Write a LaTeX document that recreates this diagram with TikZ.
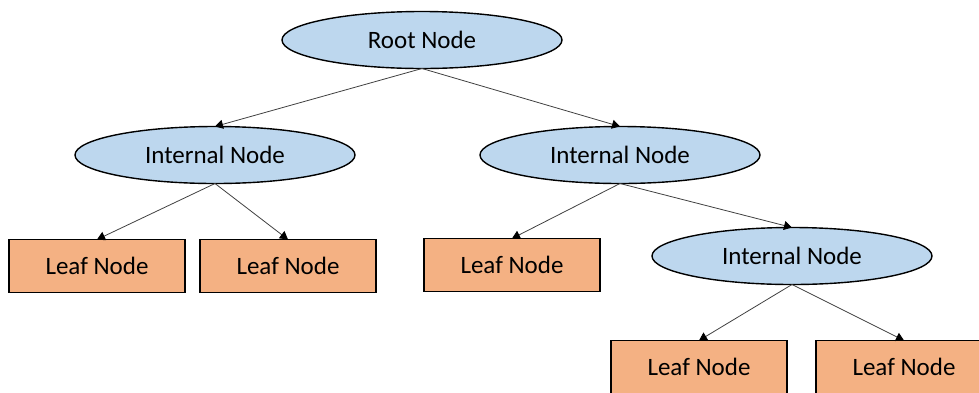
\documentclass[tikz,border=0pt]{standalone}
\usepackage{fontspec}
\setmainfont{Carlito}
\usepackage{tikz}
\usepackage{tkz-graph}
\usetikzlibrary{shapes.geometric,arrows.meta}

\definecolor{nodeblue}{HTML}{BDD7EE}
\definecolor{leaforange}{HTML}{F4B183}

\begin{document}
\begin{tikzpicture}[x=1pt,y=1pt]
\useasboundingbox (0,0) rectangle (979,-392);
\GraphInit[vstyle=Normal]
\tikzset{VertexStyle/.style = {draw,ellipse,fill=nodeblue,line width=1.4pt,
  minimum width=280pt,minimum height=57pt,inner sep=0pt,
  font=\fontsize{25}{30}\selectfont}}
\tikzset{EdgeStyle/.style = {draw,line width=0.8pt,color=black!75,
  -{Triangle[width=9pt,length=8pt,color=black]}}}
\Vertex[x=422,y=-40,L={Root Node}]{Root}
\Vertex[x=215,y=-155,L={Internal Node}]{IntA}
\Vertex[x=620,y=-155,L={Internal Node}]{IntB}
\Vertex[x=792,y=-256,L={Internal Node}]{IntC}
\tikzset{VertexStyle/.style = {draw,rectangle,fill=leaforange,line width=1.4pt,
  minimum width=176pt,minimum height=53pt,inner sep=0pt,
  font=\fontsize{25}{30}\selectfont}}
\Vertex[x=97,y=-266,L={Leaf Node}]{LeafA}
\Vertex[x=288,y=-266,L={Leaf Node}]{LeafB}
\Vertex[x=512,y=-265,L={Leaf Node}]{LeafC}
\Vertex[x=699,y=-367,L={Leaf Node}]{LeafD}
\Vertex[x=904,y=-367,L={Leaf Node}]{LeafE}
\Edge(Root.south)(IntA.north)
\Edge(Root.south)(IntB.north)
\Edge(IntA.south)(LeafA.north)
\Edge(IntA.south)(LeafB.north)
\Edge(IntB.south)(LeafC.north)
\Edge(IntB.south)(IntC.north)
\Edge(IntC.south)(LeafD.north)
\Edge(IntC.south)(LeafE.north)
\end{tikzpicture}
\end{document}
